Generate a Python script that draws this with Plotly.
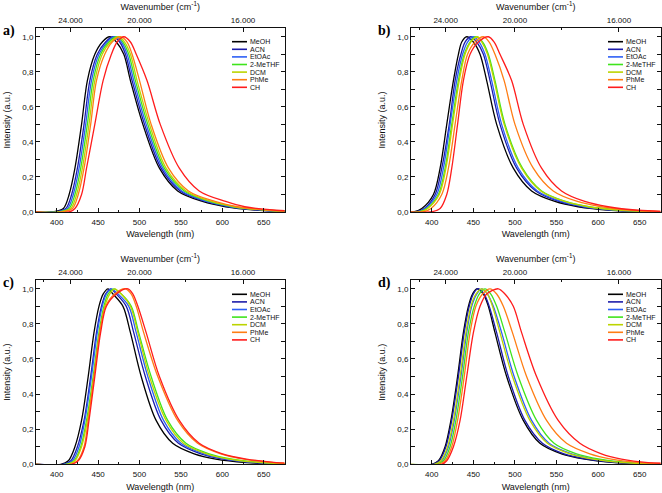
import plotly.graph_objects as go

W, H = 662, 493

SOLVENTS = ["MeOH", "ACN", "EtOAc", "2-MeTHF", "DCM", "PhMe", "CH"]
COLORS = ["#000000", "#1c1caa", "#2d5ff5", "#3fe41c", "#bcd400", "#ff7d14", "#ff1c1c"]

# normalised intensity levels; each series lists the wavelength (nm) where it crosses them
LEVELS = [0, 0, 0.02, 0.1, 0.25, 0.5, 0.75, 0.9, 0.97, 1.0,
          0.97, 0.9, 0.75, 0.5, 0.25, 0.12, 0.06, 0.03, 0.01, 0.003]

# panel a
A_MEOH = [370, 395, 408, 415, 422, 430, 437, 446, 455, 464, 472, 481, 489, 504, 524, 546, 576, 604, 645, 680]
A_ACN = [370, 398, 411, 418, 425, 433, 440, 449, 459, 468, 476, 483, 491, 506, 526, 549, 580, 608, 648, 684]
A_ETOAC = [370, 400, 413, 420, 427, 435, 442, 451, 461, 470, 478, 485, 493, 508, 528, 551, 582, 610, 651, 686]
A_METHF = [370, 402, 415, 422, 429, 437, 444, 453, 463, 473, 480, 487, 495, 510, 530, 554, 585, 613, 654, 690]
A_DCM = [370, 404, 417, 424, 431, 439, 446, 455, 465, 475, 482, 489, 497, 512, 532, 556, 587, 615, 656, 692]
A_PHME = [370, 406, 419, 426, 433, 441, 448, 458, 467, 477, 485, 491, 500, 514, 535, 559, 591, 618, 658, 695]
A_CH = [370, 415, 422, 430, 436, 446, 456, 466, 473, 481, 489, 496, 509, 525, 548, 572, 604, 627, 665, 700]

# panel b
B_MEOH = [370, 378, 388, 402, 410, 418, 426, 432, 436, 442, 450, 458, 466, 478, 498, 520, 548, 576, 616, 650]
B_ACN = [370, 381, 391, 404, 412, 421, 428, 435, 440, 447, 454, 462, 470, 482, 502, 525, 553, 581, 621, 656]
B_ETOAC = [370, 382, 392, 406, 414, 422, 430, 437, 443, 450, 457, 464, 472, 484, 504, 527, 556, 584, 624, 659]
B_METHF = [370, 384, 394, 408, 416, 424, 432, 439, 446, 453, 461, 468, 476, 488, 509, 532, 561, 589, 629, 664]
B_DCM = [370, 385, 395, 409, 417, 425, 433, 440, 447, 455, 460, 467, 475, 487, 508, 531, 560, 588, 628, 663]
B_PHME = [370, 389, 399, 412, 420, 428, 436, 443, 452, 462, 469, 476, 487, 500, 522, 546, 575, 604, 640, 675]
B_CH = [370, 398, 410, 418, 424, 431, 438, 446, 456, 468, 475, 482, 496, 510, 532, 556, 584, 612, 648, 680]

# panel c
C_MEOH = [370, 405, 414, 422, 430, 438, 445, 451, 456, 462, 468, 480, 489, 502, 520, 540, 566, 592, 629, 660]
C_ACN = [370, 407, 417, 425, 433, 441, 448, 454, 459, 465, 472, 484, 493, 507, 526, 547, 574, 601, 638, 670]
C_ETOAC = [370, 409, 419, 427, 434, 442, 449, 455, 460, 466, 474, 487, 496, 510, 529, 550, 578, 605, 642, 675]
C_METHF = [370, 411, 421, 429, 436, 444, 451, 457, 462, 469, 478, 490, 499, 514, 534, 556, 584, 612, 650, 682]
C_DCM = [370, 412, 422, 430, 437, 445, 452, 458, 464, 470, 478, 489, 498, 512, 532, 553, 581, 608, 646, 678]
C_PHME = [370, 417, 425, 433, 438, 445, 452, 459, 470, 483, 490, 496, 505, 522, 546, 570, 598, 626, 662, 695]
C_CH = [370, 418, 426, 434, 439, 446, 453, 460, 472, 486, 492, 498, 508, 524, 548, 572, 600, 629, 665, 700]

# panel d
D_MEOH = [370, 400, 408, 416, 423, 431, 438, 444, 449, 454, 462, 468, 476, 490, 510, 530, 556, 584, 620, 655]
D_ACN = [370, 401, 409, 417, 424, 432, 439, 445, 450, 455, 463, 469, 478, 492, 512, 533, 559, 587, 623, 658]
D_ETOAC = [370, 404, 412, 420, 427, 435, 442, 448, 454, 460, 467, 474, 484, 499, 520, 541, 568, 596, 632, 667]
D_METHF = [370, 405, 414, 422, 429, 437, 444, 451, 457, 464, 471, 478, 488, 504, 526, 547, 574, 602, 638, 673]
D_DCM = [370, 403, 411, 419, 426, 434, 441, 447, 453, 460, 467, 473, 482, 497, 518, 539, 566, 594, 630, 665]
D_PHME = [370, 408, 416, 424, 431, 439, 446, 453, 461, 470, 478, 486, 497, 514, 538, 562, 590, 616, 650, 688]
D_CH = [370, 412, 418, 426, 434, 442, 450, 458, 466, 480, 488, 498, 508, 526, 552, 578, 604, 628, 660, 700]

WL_TICKS = [400, 450, 500, 550, 600, 650]
WN_TICKS = [24000, 20000, 16000]
WN_TICK_LABELS = ["24.000", "20.000", "16.000"]
WN_MINOR = [26000, 22000, 18000]
Y_TICKS = [0, 0.2, 0.4, 0.6, 0.8, 1.0]
X_RANGE = [375, 675]
Y_RANGE = [0, 1.05]

PANELS = [
    dict(label="a)", box=(36, 28, 284.5, 212), lab=(1, 31), leg=(232, 41.7),
         series=[A_MEOH, A_ACN, A_ETOAC, A_METHF, A_DCM, A_PHME, A_CH]),
    dict(label="b)", box=(411, 28, 660.5, 212), lab=(376, 31), leg=(608, 41.7),
         series=[B_MEOH, B_ACN, B_ETOAC, B_METHF, B_DCM, B_PHME, B_CH]),
    dict(label="c)", box=(36, 280, 284.5, 464.3), lab=(1, 283), leg=(232, 294.3),
         series=[C_MEOH, C_ACN, C_ETOAC, C_METHF, C_DCM, C_PHME, C_CH]),
    dict(label="d)", box=(411, 280, 660.5, 464.3), lab=(376, 283), leg=(608, 294.3),
         series=[D_MEOH, D_ACN, D_ETOAC, D_METHF, D_DCM, D_PHME, D_CH]),
]


def fx(p):
    return p / W


def fy(p):
    return 1 - p / H


FONT = "Liberation Sans, Arial, sans-serif"
TICKFONT = dict(family=FONT, size=8, color="#111")
TITLEFONT = dict(family=FONT, size=9, color="#111")

fig = go.Figure()
layout = dict(
    width=W, height=H, margin=dict(l=0, r=0, t=0, b=0, autoexpand=False),
    paper_bgcolor="white", plot_bgcolor="white",
    separators=",.", showlegend=False,
    shapes=[], annotations=[],
)

for i, p in enumerate(PANELS):
    n = i + 1
    xs = "" if n == 1 else str(n)
    xt = str(n + 4)
    x0, y0, x1, y1 = p["box"]
    for name, col, wl in zip(SOLVENTS, COLORS, p["series"]):
        fig.add_trace(go.Scatter(
            x=wl, y=LEVELS, mode="lines", name=name,
            line=dict(color=col, width=1.3, shape="spline", smoothing=0.9),
            xaxis="x" + xs, yaxis="y" + xs, hoverinfo="skip"))
    fig.add_trace(go.Scatter(x=[None], y=[None], xaxis="x" + xt, yaxis="y" + xs,
                             showlegend=False, hoverinfo="skip"))

    layout["xaxis" + xs] = dict(
        domain=[fx(x0), fx(x1)], anchor="y" + xs, range=X_RANGE,
        tickmode="array", tickvals=WL_TICKS, ticks="inside", ticklen=4,
        tickcolor="#111", tickfont=TICKFONT, showgrid=False, zeroline=False,
        showline=True, linecolor="#111", linewidth=1, mirror=True,
        ticklabelstandoff=2,
        minor=dict(dtick=25, tick0=375, ticks="inside", ticklen=2, tickcolor="#111"),
        title=dict(text="Wavelength (nm)", font=TITLEFONT, standoff=5),
    )
    layout["yaxis" + xs] = dict(
        domain=[fy(y1), fy(y0)], anchor="x" + xs, range=Y_RANGE,
        tickmode="array", tickvals=Y_TICKS, tickformat=".1f", ticks="inside",
        ticklen=4, tickcolor="#111", tickfont=TICKFONT, showgrid=False,
        zeroline=False, showline=True, linecolor="#111", linewidth=1,
        mirror="allticks",
        minor=dict(dtick=0.1, tick0=0, ticks="inside", ticklen=2, tickcolor="#111"),
        title=dict(text="Intensity (a.u.)", font=TITLEFONT, standoff=10),
    )
    layout["xaxis" + xt] = dict(
        overlaying="x" + xs, anchor="y" + xs, side="top", range=X_RANGE,
        tickmode="array", tickvals=[1e7 / w for w in WN_TICKS],
        ticktext=WN_TICK_LABELS, ticks="inside", ticklen=4, tickcolor="#111",
        tickfont=TICKFONT, showgrid=False, zeroline=False, showline=False,
        ticklabelstandoff=2,
        minor=dict(tickvals=[1e7 / w for w in WN_MINOR], ticks="inside",
                   ticklen=2, tickcolor="#111"),
        title=dict(text="Wavenumber (cm<sup>-1</sup>)", font=TITLEFONT, standoff=4),
    )

    # panel label
    layout["annotations"].append(dict(
        text="<b>" + p["label"] + "</b>", x=fx(p["lab"][0]), y=fy(p["lab"][1]),
        xref="paper", yref="paper", xanchor="left", yanchor="middle",
        showarrow=False, font=dict(family="Liberation Serif, Times New Roman, serif",
                                   size=14, color="#000")))

    # legend (drawn inside the frame)
    lx, ly = p["leg"]
    for k, (name, col) in enumerate(zip(SOLVENTS, COLORS)):
        yy = ly + 7.6 * k
        layout["shapes"].append(dict(
            type="line", xref="paper", yref="paper",
            x0=fx(lx), x1=fx(lx + 15), y0=fy(yy), y1=fy(yy),
            line=dict(color=col, width=1.6)))
        layout["annotations"].append(dict(
            text=name, x=fx(lx + 16), y=fy(yy), xref="paper", yref="paper",
            xanchor="left", yanchor="middle", showarrow=False,
            font=dict(family=FONT, size=7, color="#111")))

fig.update_layout(**layout)
fig.write_html(
    "out.html",
    config={"displayModeBar": False},
    post_script="document.body.style.margin='0';document.body.style.overflow='hidden';",
)
